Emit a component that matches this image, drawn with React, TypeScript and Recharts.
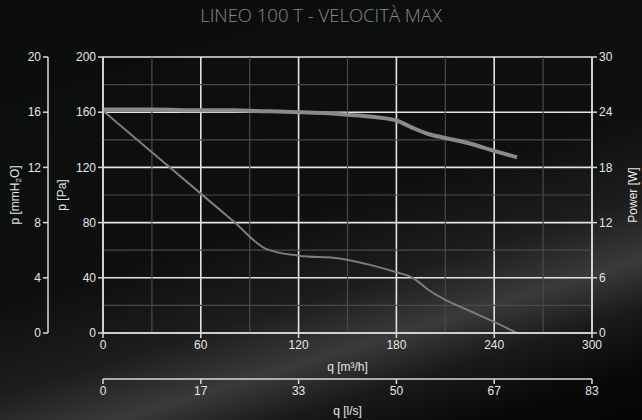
import { LineChart, Line, XAxis, YAxis, CartesianGrid, ReferenceLine } from "recharts";

const flow = [0, 30, 60, 80, 100, 120, 145, 165, 180, 190, 200, 210, 225, 240, 254];
const pressure = [161, 131, 101, 81, 61, 56, 54, 49, 44, 40, 31, 24, 16, 8, 0];
const power = [24.3, 24.3, 24.2, 24.2, 24.1, 24.0, 23.8, 23.5, 23.1, 22.3, 21.6, 21.2, 20.6, 19.8, 19.1];

const qTicks = [0, 60, 120, 180, 240, 300];
const qMinor = [30, 90, 150, 210, 270];
const lsLabels = ["0", "17", "33", "50", "67", "83"];
const paTicks = [0, 40, 80, 120, 160, 200];
const paMinor = [20, 60, 100, 140, 180];
const mmTicks = [0, 4, 8, 12, 16, 20];
const wTicks = [0, 6, 12, 18, 24, 30];

const data = flow.map((q, i) => ({ q, p: pressure[i], w: power[i] }));

const txt = "#e6e6e6";
const font = "'Liberation Sans', Arial, sans-serif";
const axisLine = { stroke: "#d8d8d8", strokeWidth: 1.5 };
const tickStyle = { fill: txt, fontSize: 12, fontFamily: font };

// rotated axis title, placed at a fixed x, centred on the plot height
const VLabel = ({ viewBox, px, text, sub }: any) => {
  const y = viewBox.y + viewBox.height / 2;
  return (
    <text
      x={px}
      y={y}
      transform={`rotate(-90 ${px} ${y})`}
      textAnchor="middle"
      dominantBaseline="central"
      fill={txt}
      fontSize={12}
      fontFamily={font}
    >
      {sub ? (
        <>
          p [mmH<tspan fontSize={8} dy={3}>2</tspan>
          <tspan dy={-3}>O]</tspan>
        </>
      ) : (
        text
      )}
    </text>
  );
};

const App = () => {
  return (
    <div
      style={{
        position: "absolute",
        left: 0,
        top: 0,
        width: 642,
        height: 420,
        overflow: "hidden",
        fontFamily: font,
        background:
          "linear-gradient(163deg, #0b0c0c 0%, #0e0f0f 50%, #1c1d1d 64%, #3a3a3a 74%, #1a1a1a 82%, #080808 92%, #050505 100%)",
      }}
    >
      <div
        style={{
          position: "absolute",
          top: 2,
          width: 642,
          textAlign: "center",
          color: "#8a8a8a",
          fontSize: 18.5,
          fontFamily: "'Open Sans', sans-serif",
          fontWeight: 300,
        }}
      >
        LINEO 100 T - VELOCITÀ MAX
      </div>
      <LineChart
        width={642}
        height={420}
        data={data}
        margin={{ top: 57, right: 0, bottom: 1, left: 0 }}
        style={{ position: "absolute", left: 0, top: 0 }}
      >
        {qMinor.map((v) => (
          <ReferenceLine key={"x" + v} x={v} xAxisId="a_q" yAxisId="a_pa" stroke="#4a4a4a" strokeWidth={1.2} />
        ))}
        {paMinor.map((v) => (
          <ReferenceLine key={"y" + v} y={v} xAxisId="a_q" yAxisId="a_pa" stroke="#4a4a4a" strokeWidth={1.2} />
        ))}
        <CartesianGrid xAxisId="a_q" yAxisId="a_pa" stroke="#e4e4e4" strokeWidth={1.6} />
        <XAxis
          xAxisId="a_q"
          dataKey="q"
          type="number"
          domain={[0, 300]}
          ticks={qTicks}
          height={46}
          tick={tickStyle}
          axisLine={axisLine}
          tickLine={axisLine}
          tickSize={5}
          label={{ value: "q [m³/h]", position: "insideBottom", offset: 8, fill: txt, fontSize: 12 }}
        />
        <XAxis
          xAxisId="b_ls"
          dataKey="q"
          type="number"
          domain={[0, 300]}
          ticks={qTicks}
          tickFormatter={(_v: number, i: number) => lsLabels[i]}
          height={40}
          tick={tickStyle}
          axisLine={axisLine}
          tickLine={axisLine}
          tickSize={5}
          label={{ value: "q [l/s]", position: "insideBottom", offset: 4, fill: txt, fontSize: 12 }}
        />
        <YAxis
          yAxisId="a_pa"
          type="number"
          domain={[0, 200]}
          ticks={paTicks}
          width={55}
          tick={tickStyle}
          axisLine={axisLine}
          tickLine={axisLine}
          tickSize={5}
          label={<VLabel px={62} text="p [Pa]" />}
        />
        <YAxis
          yAxisId="b_mm"
          type="number"
          domain={[0, 20]}
          allowDataOverflow
          ticks={mmTicks}
          width={48}
          tick={tickStyle}
          axisLine={axisLine}
          tickLine={axisLine}
          tickSize={5}
          label={<VLabel px={15} sub />}
        />
        <YAxis
          yAxisId="w"
          orientation="right"
          type="number"
          domain={[0, 30]}
          ticks={wTicks}
          width={50}
          tick={tickStyle}
          axisLine={axisLine}
          tickLine={axisLine}
          tickSize={5}
          label={<VLabel px={633} text="Power [W]" />}
        />
        <Line
          xAxisId="a_q"
          yAxisId="a_pa"
          dataKey="p"
          type="monotone"
          stroke="#7d7d7d"
          strokeWidth={2}
          dot={false}
          isAnimationActive={false}
        />
        <Line
          xAxisId="a_q"
          yAxisId="w"
          dataKey="w"
          type="monotone"
          stroke="#8a8a8a"
          strokeWidth={4}
          dot={false}
          isAnimationActive={false}
        />
      </LineChart>
    </div>
  );
};

export default App;
